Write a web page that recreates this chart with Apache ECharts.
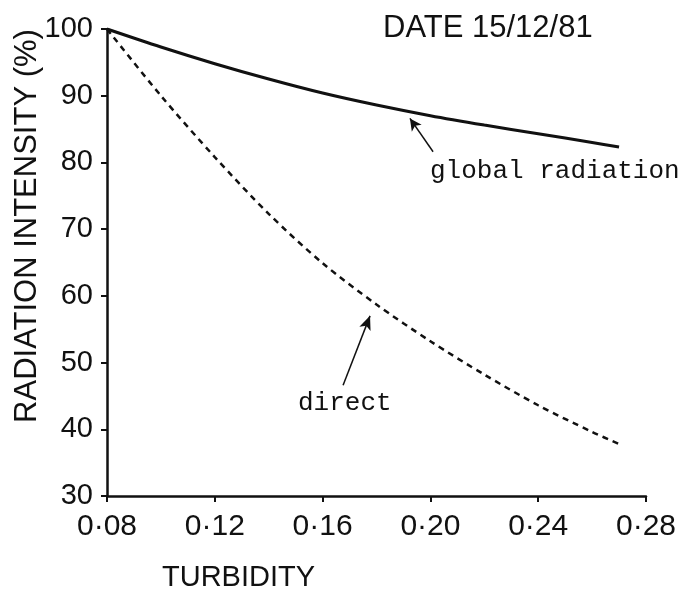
<!DOCTYPE html>
<html>
<head>
<meta charset="utf-8">
<script src="https://cdn.jsdelivr.net/npm/echarts@6/dist/echarts.min.js"></script>
<style>
html,body{margin:0;padding:0;background:#fff;}
#chart{width:686px;height:591px;}
</style>
</head>
<body>
<div id="chart"></div>
<script>
const turbidity = [0.08, 0.10, 0.12, 0.14, 0.16, 0.18, 0.20, 0.22, 0.24, 0.26, 0.27];
const globalRadiation = [100, 97.3, 94.8, 92.5, 90.4, 88.6, 87.0, 85.6, 84.3, 83.0, 82.3];
const directRadiation = [100, 90.0, 80.8, 72.3, 64.9, 58.7, 53.2, 48.2, 43.6, 39.6, 37.8];
const xTickLabels = ['0·08', '0·12', '0·16', '0·20', '0·24', '0·28'];
const yTickLabels = ['30', '40', '50', '60', '70', '80', '90', '100'];

const chart = echarts.init(document.getElementById('chart'), null, {renderer: 'canvas'});
const sans = 'Liberation Sans';
const mono = 'Liberation Mono';
const ink = '#111';

const option = {
  animation: false,
  backgroundColor: '#fff',
  grid: {left: 107, right: 40, top: 29, bottom: 95, containLabel: false},
  xAxis: {
    type: 'value', min: 0.08, max: 0.28, interval: 0.04,
    splitLine: {show: false},
    axisLine: {show: true, lineStyle: {color: ink, width: 2.5}},
    axisTick: {show: true, inside: false, length: 6, lineStyle: {color: ink, width: 2}},
    axisLabel: {
      margin: 16, color: ink, fontFamily: sans, fontSize: 30,
      formatter: (v) => {
        const i = Math.round((v - 0.08) / 0.04);
        return xTickLabels[i] !== undefined ? xTickLabels[i] : '';
      }
    }
  },
  yAxis: {
    type: 'value', min: 30, max: 100, interval: 10,
    splitLine: {show: false},
    axisLine: {show: true, lineStyle: {color: ink, width: 2.5}},
    axisTick: {show: true, inside: false, length: 6, lineStyle: {color: ink, width: 2}},
    axisLabel: {
      margin: 14, color: ink, fontFamily: sans, fontSize: 29,
      formatter: (v) => {
        const i = Math.round((v - 30) / 10);
        return yTickLabels[i] !== undefined ? yTickLabels[i] : '';
      }
    }
  },
  series: [
    {
      name: 'global radiation', type: 'line', smooth: 0.3, symbol: 'none',
      data: turbidity.map((x, i) => [x, globalRadiation[i]]),
      lineStyle: {color: ink, width: 3, type: 'solid'},
      markLine: {
        silent: true, symbol: ['none', 'arrow'], symbolSize: [9, 12],
        label: {show: false},
        lineStyle: {color: ink, width: 1.5, type: 'solid'},
        data: [[{coord: [0.201, 81.6]}, {coord: [0.1924, 86.6]}]]
      }
    },
    {
      name: 'direct', type: 'line', smooth: 0.3, symbol: 'none',
      data: turbidity.map((x, i) => [x, directRadiation[i]]),
      lineStyle: {color: ink, width: 2.5, type: [6, 5]},
      markLine: {
        silent: true, symbol: ['none', 'arrow'], symbolSize: [9, 14],
        label: {show: false},
        lineStyle: {color: ink, width: 1.5, type: 'solid'},
        data: [[{coord: [0.1676, 46.6]}, {coord: [0.1776, 57.0]}]]
      }
    }
  ],
  graphic: [
    {type: 'text', x: 27, y: 226, rotation: Math.PI / 2,
      style: {text: 'RADIATION INTENSITY (%)', fontFamily: sans, fontSize: 31, fill: ink, align: 'center', verticalAlign: 'middle'}},
    {type: 'text', x: 162, y: 578,
      style: {text: 'TURBIDITY', fontFamily: sans, fontSize: 29, fill: ink, align: 'left', verticalAlign: 'middle'}},
    {type: 'text', x: 383, y: 28,
      style: {text: 'DATE 15/12/81', fontFamily: sans, fontSize: 31, fill: ink, align: 'left', verticalAlign: 'middle'}},
    {type: 'text', x: 430, y: 171,
      style: {text: 'global radiation', fontFamily: mono, fontSize: 26, fill: ink, align: 'left', verticalAlign: 'middle'}},
    {type: 'text', x: 298, y: 403,
      style: {text: 'direct', fontFamily: mono, fontSize: 26, fill: ink, align: 'left', verticalAlign: 'middle'}}
  ]
};
chart.setOption(option);
</script>
</body>
</html>
